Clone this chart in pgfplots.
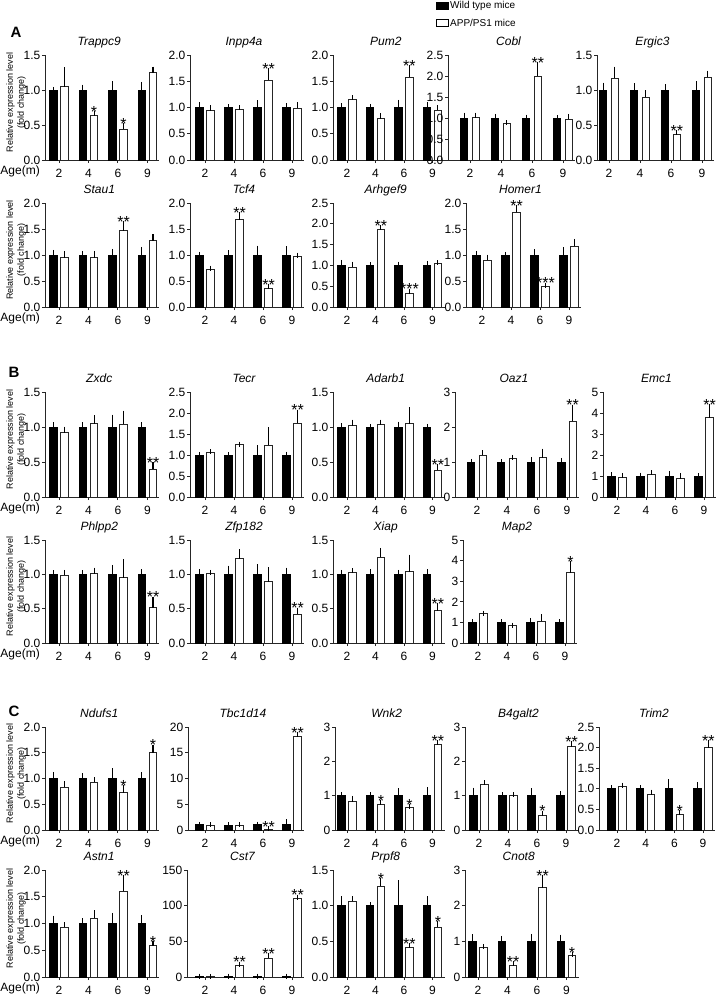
\documentclass[border=0pt]{standalone}
\usepackage{fontspec}
\setmainfont{Liberation Sans}
\usepackage{pgfplots}
\usepackage{pgfplotstable}
\pgfplotsset{compat=1.18}

\newcommand{\tickfont}{\fontsize{12}{13}\selectfont}
\newcommand{\starfont}{\fontsize{16}{16}\selectfont}

\pgfplotsset{
  panel/.style={
    scale only axis, anchor=south west, clip=false,
    axis x line*=bottom, axis y line*=left,
    axis line style={-, line width=0.9pt, black!85},
    ymin=0, xtick={0,1,2,3}, xticklabels={2,4,6,9},
    tick align=outside, major tick length=3pt,
    tick style={line width=0.9pt, black!85},
    every tick label/.append style={font=\tickfont},
    xticklabel style={anchor=base, yshift=-14pt, inner sep=0pt},
    yticklabel style={inner sep=0pt, xshift=-1.5pt},
    title style={font=\itshape\fontsize{12}{13}\selectfont, anchor=base, at={(0.5,1)}, yshift=4pt, xshift=-3pt},
  },
  yA/.style={ymax=1.5, ytick={0,0.5,1,1.5}, yticklabels={0.0,0.5,1.0,1.5}},
  yB/.style={ymax=2, ytick={0,0.5,1,1.5,2}, yticklabels={0.0,0.5,1.0,1.5,2.0}},
  yC/.style={ymax=2.5, ytick={0,0.5,1,1.5,2,2.5}, yticklabels={0.0,0.5,1.0,1.5,2.0,2.5}},
  yD/.style={ymax=3, ytick={0,1,2,3}, yticklabels={0,1,2,3}},
  yE/.style={ymax=5, ytick={0,1,2,3,4,5}, yticklabels={0,1,2,3,4,5}},
  yF/.style={ymax=20, ytick={0,5,10,15,20}, yticklabels={0,5,10,15,20}},
  yG/.style={ymax=150, ytick={0,50,100,150}, yticklabels={0,50,100,150}},
  errs/.style={error bars/y dir=plus, error bars/y explicit,
    error bars/error bar style={line width=1.1pt, black, solid},
    error bars/error mark options={line width=1.1pt, mark size=2.5pt, black}},
  wt/.style={ybar, bar width=7.3pt, bar shift=0pt, fill=black, draw=black, line width=0.9pt, errs},
  app/.style={ybar, bar width=7.3pt, bar shift=0pt, fill=white, draw=black!85, line width=1pt, errs},
  first/.style={after end axis/.code={
    \node[anchor=base east, font=\tickfont, inner sep=0pt] at ([xshift=-5pt,yshift=-14.5pt]rel axis cs:0,0) {Age(m)};
    \node[rotate=90, anchor=south, align=center, font=\fontsize{9}{11}\selectfont, inner sep=0pt]
      at ([xshift=-19pt, yshift=5pt]rel axis cs:0,0.5) {Relative expression level\\(fold change)};
  }},
}

% WT bar sits left of the age position, APP/PS1 bar right of it
\newcommand{\bars}[1]{%
  \addplot[wt] table[x expr=\thisrow{c}-0.19, y=w, y error=we] {#1};
  \addplot[app] table[x expr=\thisrow{c}+0.19, y=a, y error=ae] {#1};}
\newcommand{\sig}[2]{%
  \addplot[only marks, mark=text, text mark={#1}, text mark as node=true,
    text mark style={anchor=base, yshift=-3.8pt, inner sep=0pt, font=\starfont}] coordinates {#2};}

% columns: c = age index (2,4,6,9 months), w/we = wild type mean/error, a/ae = APP/PS1 mean/error
\pgfplotstableread{
c w we a ae
0 1 0.01 1.05 0.24
1 1 0.04 0.64 0.02
2 1 0.09 0.44 0.05
3 1 0.08 1.25 0.05
}\tTrappc
\pgfplotstableread{
c w we a ae
0 1 0.05 0.94 0.06
1 1 0.01 0.97 0.03
2 1 0.09 1.52 0.18
3 1 0.03 0.99 0.06
}\tInpp
\pgfplotstableread{
c w we a ae
0 1 0.03 1.15 0.04
1 1 0.02 0.79 0.06
2 1 0.10 1.58 0.18
3 1 0.05 0.95 0.05
}\tPum
\pgfplotstableread{
c w we a ae
0 1 0.07 1.02 0.05
1 1 0.04 0.87 0.02
2 1 0.02 2.00 0.28
3 1 0.01 0.97 0.07
}\tCobl
\pgfplotstableread{
c w we a ae
0 1 0.07 1.17 0.13
1 1 0.06 0.90 0.06
2 1 0.05 0.36 0.03
3 1 0.09 1.18 0.06
}\tErgic
\pgfplotstableread{
c w we a ae
0 1 0.05 0.95 0.07
1 1 0.03 0.95 0.08
2 1 0.07 1.47 0.14
3 1 0.11 1.27 0.08
}\tStau
\pgfplotstableread{
c w we a ae
0 1 0.01 0.72 0.03
1 1 0.04 1.68 0.09
2 1 0.13 0.36 0.04
3 1 0.12 0.98 0.02
}\tTcf
\pgfplotstableread{
c w we a ae
0 1 0.07 0.96 0.07
1 1 0.02 1.86 0.05
2 1 0.03 0.33 0.05
3 1 0.05 1.04 0.02
}\tArhgef
\pgfplotstableread{
c w we a ae
0 1 0.03 0.90 0.06
1 1 0.01 1.82 0.09
2 1 0.06 0.40 0.02
3 1 0.10 1.17 0.09
}\tHomer
\pgfplotstableread{
c w we a ae
0 1 0.03 0.92 0.05
1 1 0.03 1.05 0.08
2 1 0.14 1.04 0.16
3 1 0.03 0.40 0.06
}\tZxdc
\pgfplotstableread{
c w we a ae
0 1 0.01 1.05 0.03
1 1 0.01 1.24 0.02
2 1 0.17 1.23 0.37
3 1 0.02 1.76 0.26
}\tTecr
\pgfplotstableread{
c w we a ae
0 1 0.02 1.02 0.05
1 1 0.01 1.03 0.04
2 1 0.04 1.05 0.20
3 1 0.01 0.38 0.05
}\tAdarb
\pgfplotstableread{
c w we a ae
0 1 0.02 1.20 0.06
1 1 0.01 1.10 0.03
2 1 0.06 1.12 0.19
3 1 0.05 2.17 0.40
}\tOaz
\pgfplotstableread{
c w we a ae
0 1 0.05 0.95 0.08
1 1 0.04 1.05 0.10
2 1 0.12 0.88 0.15
3 1 0.02 3.77 0.55
}\tEmc
\pgfplotstableread{
c w we a ae
0 1 0.02 0.99 0.04
1 1 0.02 1.01 0.05
2 1 0.10 0.95 0.23
3 1 0.04 0.51 0.13
}\tPhlpp
\pgfplotstableread{
c w we a ae
0 1 0.04 1.01 0.02
1 1 0.09 1.23 0.10
2 1 0.11 0.89 0.18
3 1 0.06 0.42 0.06
}\tZfp
\pgfplotstableread{
c w we a ae
0 1 0.03 1.02 0.03
1 1 0.04 1.25 0.10
2 1 0.03 1.04 0.21
3 1 0.04 0.47 0.08
}\tXiap
\pgfplotstableread{
c w we a ae
0 1 0.02 1.42 0.03
1 1 0.03 0.83 0.04
2 1 0.10 1.05 0.22
3 1 0.04 3.40 0.45
}\tMap
\pgfplotstableread{
c w we a ae
0 1 0.08 0.83 0.07
1 1 0.05 0.93 0.05
2 1 0.15 0.72 0.11
3 1 0.07 1.50 0.11
}\tNdufs
\pgfplotstableread{
c w we a ae
0 1 0.10 0.90 0.10
1 0.95 0.10 0.90 0.12
2 1 0.15 0.15 0.05
3 1 0.60 18.2 0.25
}\tTbc
\pgfplotstableread{
c w we a ae
0 1 0.02 0.82 0.10
1 1 0.03 0.75 0.04
2 1 0.15 0.65 0.04
3 1 0.17 2.48 0.06
}\tWnk
\pgfplotstableread{
c w we a ae
0 1 0.16 1.32 0.06
1 1 0.03 1.00 0.02
2 1 0.15 0.43 0.06
3 1 0.06 2.42 0.10
}\tBgalt
\pgfplotstableread{
c w we a ae
0 1 0.03 1.06 0.03
1 1 0.02 0.87 0.05
2 1 0.17 0.37 0.05
3 1 0.10 2.00 0.13
}\tTrim
\pgfplotstableread{
c w we a ae
0 1 0.10 0.93 0.05
1 1 0.05 1.10 0.10
2 1 0.15 1.60 0.26
3 1 0.11 0.58 0.04
}\tAstn
\pgfplotstableread{
c w we a ae
0 1 0.3 0.7 0.2
1 1 0.3 16 2
2 1 0.3 26 4
3 1 0.3 110 2
}\tCst
\pgfplotstableread{
c w we a ae
0 1 0.10 1.06 0.04
1 1 0.01 1.27 0.08
2 1 0.32 0.41 0.03
3 1 0.10 0.70 0.05
}\tPrpf
\pgfplotstableread{
c w we a ae
0 1 0.13 0.83 0.03
1 1 0.08 0.32 0.06
2 1 0.14 2.50 0.28
3 1 0.12 0.60 0.03
}\tCnot

\begin{document}
\begin{tikzpicture}
\useasboundingbox (0pt,0pt) rectangle (720pt,-997pt);
\node[font=\bfseries\fontsize{15}{15}\selectfont] at (16pt,-32pt) {A};
\node[font=\bfseries\fontsize{15}{15}\selectfont] at (14pt,-372pt) {B};
\node[font=\bfseries\fontsize{15}{15}\selectfont] at (14pt,-711pt) {C};

% ---------------- A, row 1
\begin{axis}[panel, yA, first, title=Trappc9, at={(45pt,-160pt)}, width=114.5pt, height=105pt, xmin=-0.475, xmax=3.41]
\bars{\tTrappc}
\sig{*}{(1.19,0.66) (2.19,0.49)}
\end{axis}
\begin{axis}[panel, yB, title=Inpp4a, at={(190pt,-160pt)}, width=114pt, height=105pt, xmin=-0.517, xmax=3.414]
\bars{\tInpp}
\sig{**}{(2.19,1.70)}
\end{axis}
\begin{axis}[panel, yB, title=Pum2, at={(333pt,-160pt)}, width=111.5pt, height=105pt, xmin=-0.491, xmax=3.421]
\bars{\tPum}
\sig{**}{(2.19,1.76)}
\end{axis}
\begin{axis}[panel, yC, title=Cobl, at={(448pt,-160pt)}, width=127pt, height=105pt, xmin=-0.71, xmax=3.387,
  legend style={at={(-0.0945,1.524)}, anchor=north west, draw=none, fill=none,
    font=\fontsize{10}{12}\selectfont, inner sep=0pt, row sep=7pt,
    nodes={inner sep=1pt, anchor=west}}]
\addlegendimage{legend image code/.code={\draw[fill=black, draw=black, line width=0.8pt] (0pt,-3.5pt) rectangle (12pt,3.5pt);}}
\addlegendimage{legend image code/.code={\draw[fill=white, draw=black, line width=1pt] (0pt,-3.5pt) rectangle (12pt,3.5pt);}}
\legend{Wild type mice, APP/PS1 mice}
\bars{\tCobl}
\sig{**}{(2.19,2.28)}
\end{axis}
\begin{axis}[panel, yA, title=Ergic3, at={(597pt,-160pt)}, width=117pt, height=105pt, xmin=-0.387, xmax=3.387]
\bars{\tErgic}
\sig{**}{(2.19,0.39)}
\end{axis}

% ---------------- A, row 2
\begin{axis}[panel, yB, first, title=Stau1, at={(45pt,-307pt)}, width=114.5pt, height=104pt, xmin=-0.475, xmax=3.41]
\bars{\tStau}
\sig{**}{(2.19,1.61)}
\end{axis}
\begin{axis}[panel, yB, title=Tcf4, at={(190pt,-307pt)}, width=114pt, height=104pt, xmin=-0.517, xmax=3.414]
\bars{\tTcf}
\sig{**}{(1.19,1.77) (2.19,0.40)}
\end{axis}
\begin{axis}[panel, yC, title=Arhgef9, at={(333pt,-307pt)}, width=111.5pt, height=104pt, xmin=-0.491, xmax=3.421]
\bars{\tArhgef}
\sig{**}{(1.19,1.91)}
\sig{***}{(2.19,0.38)}
\end{axis}
\begin{axis}[panel, yB, title=Homer1, at={(466pt,-307pt)}, width=115pt, height=104pt, xmin=-0.552, xmax=3.414]
\bars{\tHomer}
\sig{**}{(1.19,1.91)}
\sig{***}{(2.19,0.42)}
\end{axis}

% ---------------- B, row 1
\begin{axis}[panel, yA, first, title=Zxdc, at={(45pt,-497pt)}, width=114.5pt, height=105pt, xmin=-0.475, xmax=3.41]
\bars{\tZxdc}
\sig{**}{(3.19,0.46)}
\end{axis}
\begin{axis}[panel, yC, title=Tecr, at={(190pt,-497pt)}, width=114pt, height=105pt, xmin=-0.517, xmax=3.414]
\bars{\tTecr}
\sig{**}{(3.19,2.02)}
\end{axis}
\begin{axis}[panel, yA, title=Adarb1, at={(333pt,-497pt)}, width=111.5pt, height=105pt, xmin=-0.491, xmax=3.421]
\bars{\tAdarb}
\sig{**}{(3.19,0.43)}
\end{axis}
\begin{axis}[panel, yD, title=Oaz1, at={(455pt,-497pt)}, width=124pt, height=105pt, xmin=-0.733, xmax=3.4]
\bars{\tOaz}
\sig{**}{(3.19,2.57)}
\end{axis}
\begin{axis}[panel, yE, title=Emc1, at={(603pt,-497pt)}, width=113pt, height=105pt, xmin=-0.483, xmax=3.414]
\bars{\tEmc}
\sig{**}{(3.19,4.32)}
\end{axis}

% ---------------- B, row 2
\begin{axis}[panel, yA, first, title=Phlpp2, at={(45pt,-643pt)}, width=114.5pt, height=103pt, xmin=-0.475, xmax=3.41]
\bars{\tPhlpp}
\sig{**}{(3.19,0.64)}
\end{axis}
\begin{axis}[panel, yA, title=Zfp182, at={(190pt,-643pt)}, width=114pt, height=103pt, xmin=-0.517, xmax=3.414]
\bars{\tZfp}
\sig{**}{(3.19,0.48)}
\end{axis}
\begin{axis}[panel, yA, title=Xiap, at={(333pt,-643pt)}, width=111.5pt, height=103pt, xmin=-0.491, xmax=3.421]
\bars{\tXiap}
\sig{**}{(3.19,0.55)}
\end{axis}
\begin{axis}[panel, yE, title=Map2, at={(463pt,-643pt)}, width=114pt, height=103pt, xmin=-0.517, xmax=3.414]
\bars{\tMap}
\sig{*}{(3.19,3.85)}
\end{axis}

% ---------------- C, row 1
\begin{axis}[panel, yB, first, title=Ndufs1, at={(45pt,-830pt)}, width=114.5pt, height=103pt, xmin=-0.475, xmax=3.41]
\bars{\tNdufs}
\sig{*}{(2.19,0.83) (3.19,1.61)}
\end{axis}
\begin{axis}[panel, yF, title=Tbc1d14, at={(188pt,-830pt)}, width=116pt, height=103pt, xmin=-0.586, xmax=3.414]
\bars{\tTbc}
\sig{**}{(2.19,0.2) (3.19,18.45)}
\end{axis}
\begin{axis}[panel, yD, title=Wnk2, at={(335pt,-830pt)}, width=109.5pt, height=103pt, xmin=-0.421, xmax=3.421]
\bars{\tWnk}
\sig{*}{(1.19,0.79) (2.19,0.69)}
\sig{**}{(3.19,2.54)}
\end{axis}
\begin{axis}[panel, yD, title=B4galt2, at={(465pt,-830pt)}, width=113pt, height=103pt, xmin=-0.483, xmax=3.414]
\bars{\tBgalt}
\sig{*}{(2.19,0.49)}
\sig{**}{(3.19,2.52)}
\end{axis}
\begin{axis}[panel, yC, title=Trim2, at={(599pt,-830pt)}, width=116pt, height=103pt, xmin=-0.627, xmax=3.418]
\bars{\tTrim}
\sig{*}{(2.19,0.42)}
\sig{**}{(3.19,2.13)}
\end{axis}

% ---------------- C, row 2
\begin{axis}[panel, yB, first, title=Astn1, at={(45pt,-977pt)}, width=114.5pt, height=107pt, xmin=-0.475, xmax=3.41]
\bars{\tAstn}
\sig{**}{(2.19,1.86)}
\sig{*}{(3.19,0.62)}
\end{axis}
\begin{axis}[panel, yG, title=Cst7, at={(187pt,-977pt)}, width=117pt, height=107pt, xmin=-0.621, xmax=3.414]
\bars{\tCst}
\sig{**}{(1.19,18) (2.19,30) (3.19,112)}
\end{axis}
\begin{axis}[panel, yA, title=Prpf8, at={(333pt,-977pt)}, width=111.5pt, height=107pt, xmin=-0.491, xmax=3.421]
\bars{\tPrpf}
\sig{*}{(1.19,1.35) (3.19,0.75)}
\sig{**}{(2.19,0.44)}
\end{axis}
\begin{axis}[panel, yD, title=Cnot8, at={(465pt,-977pt)}, width=113.5pt, height=107pt, xmin=-0.441, xmax=3.407]
\bars{\tCnot}
\sig{**}{(1.19,0.38) (2.19,2.78)}
\sig{*}{(3.19,0.63)}
\end{axis}
\end{tikzpicture}
\end{document}
